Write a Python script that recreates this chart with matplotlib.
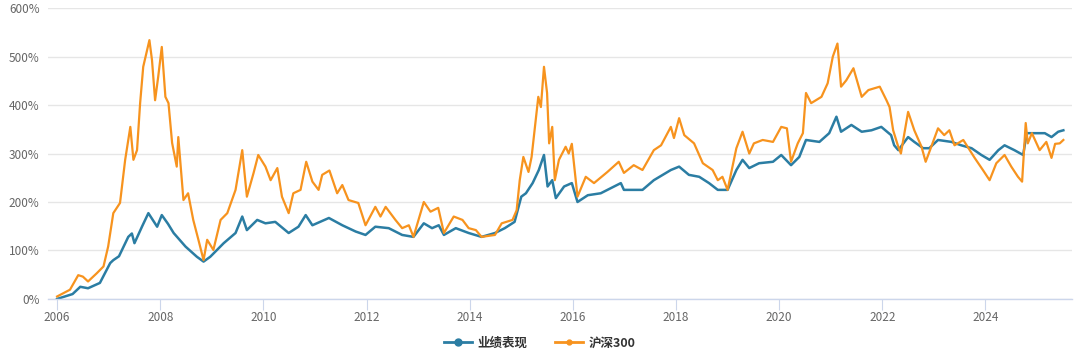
import matplotlib.pyplot as plt
from matplotlib.ticker import FuncFormatter

plt.rcParams['font.family'] = ['Noto Sans CJK SC', 'DejaVu Sans']

# 业绩表现 (strategy), decimal year / cumulative return %
perf_t = [2006.0, 2006.3, 2006.45, 2006.6, 2006.83, 2007.03, 2007.09, 2007.2, 2007.38, 2007.45,
          2007.5, 2007.65, 2007.77, 2007.94, 2008.03, 2008.15, 2008.26, 2008.49, 2008.71, 2008.84,
          2008.97, 2009.23, 2009.46, 2009.59, 2009.68, 2009.88, 2010.04, 2010.23, 2010.49, 2010.68,
          2010.82, 2010.95, 2011.27, 2011.53, 2011.79, 2011.98, 2012.17, 2012.43, 2012.69, 2012.91,
          2013.11, 2013.27, 2013.4, 2013.5, 2013.73, 2013.98, 2014.23, 2014.49, 2014.68, 2014.87,
          2015.0, 2015.09, 2015.22, 2015.34, 2015.44, 2015.51, 2015.6, 2015.67, 2015.83, 2015.98,
          2016.09, 2016.29, 2016.54, 2016.93, 2016.99, 2017.35, 2017.57, 2017.9, 2018.06, 2018.25,
          2018.45, 2018.64, 2018.81, 2019.0, 2019.17, 2019.29, 2019.42, 2019.61, 2019.88, 2020.04,
          2020.23, 2020.39, 2020.52, 2020.78, 2020.97, 2021.11, 2021.2, 2021.4, 2021.6, 2021.79,
          2021.98, 2022.17, 2022.23, 2022.31, 2022.5, 2022.62, 2022.79, 2022.91, 2023.08, 2023.34,
          2023.53, 2023.73, 2023.92, 2024.08, 2024.25, 2024.37, 2024.56, 2024.73, 2024.8, 2024.95,
          2025.15, 2025.28, 2025.41, 2025.51]
perf_v = [0, 10, 25, 22, 33, 74, 80, 88, 128, 135,
          115, 150, 177, 149, 173, 155, 136, 108, 87, 77,
          87, 115, 136, 170, 142, 163, 156, 159, 136, 149,
          173, 152, 167, 152, 139, 132, 149, 146, 132, 128,
          156, 146, 152, 132, 146, 136, 128, 136, 146, 159,
          211, 218, 239, 266, 297, 232, 245, 208, 232, 239,
          200, 214, 218, 239, 225, 225, 245, 266, 273, 256,
          252, 239, 225, 225, 266, 287, 270, 280, 283, 297,
          276, 293, 328, 324, 342, 376, 345, 359, 345, 348,
          355, 338, 317, 307, 334, 324, 311, 311, 328, 324,
          317, 311, 297, 287, 307, 317, 307, 297, 342, 342,
          342, 334, 345, 348]

# 沪深300 (CSI 300)
hs_t = [2006.0, 2006.25, 2006.41, 2006.5, 2006.6, 2006.77, 2006.9, 2006.99, 2007.09, 2007.22,
        2007.32, 2007.42, 2007.48, 2007.55, 2007.61, 2007.67, 2007.79, 2007.84, 2007.9, 2007.96,
        2008.03, 2008.1, 2008.16, 2008.23, 2008.32, 2008.35, 2008.45, 2008.54, 2008.64, 2008.74,
        2008.84, 2008.91, 2009.03, 2009.17, 2009.3, 2009.46, 2009.59, 2009.68, 2009.81, 2009.9,
        2010.04, 2010.14, 2010.27, 2010.36, 2010.49, 2010.58, 2010.72, 2010.83, 2010.95, 2011.07,
        2011.14, 2011.28, 2011.43, 2011.53, 2011.65, 2011.84, 2011.98, 2012.17, 2012.27, 2012.37,
        2012.56, 2012.69, 2012.82, 2012.91, 2013.11, 2013.24, 2013.39, 2013.5, 2013.69, 2013.86,
        2013.98, 2014.12, 2014.23, 2014.49, 2014.62, 2014.83, 2014.91, 2014.97, 2015.04, 2015.14,
        2015.2, 2015.33, 2015.38, 2015.44, 2015.5, 2015.54, 2015.6, 2015.65, 2015.73, 2015.86,
        2015.92, 2015.98, 2016.09, 2016.25, 2016.41, 2016.67, 2016.89, 2016.99, 2017.18, 2017.35,
        2017.57, 2017.71, 2017.9, 2017.96, 2018.06, 2018.16, 2018.35, 2018.52, 2018.71, 2018.81,
        2018.9, 2019.0, 2019.17, 2019.29, 2019.42, 2019.51, 2019.68, 2019.88, 2020.04, 2020.15,
        2020.23, 2020.36, 2020.46, 2020.52, 2020.62, 2020.82, 2020.94, 2021.04, 2021.13, 2021.2,
        2021.3, 2021.44, 2021.6, 2021.73, 2021.95, 2022.08, 2022.14, 2022.21, 2022.3, 2022.36,
        2022.5, 2022.62, 2022.76, 2022.84, 2022.9, 2023.08, 2023.2, 2023.3, 2023.4, 2023.57,
        2023.67, 2023.79, 2023.95, 2024.08, 2024.21, 2024.37, 2024.5, 2024.63, 2024.71, 2024.78,
        2024.82, 2024.9, 2025.05, 2025.18, 2025.28, 2025.35, 2025.44, 2025.51]
hs_v = [5, 19, 49, 46, 36, 53, 67, 108, 177, 198,
        287, 355, 287, 307, 404, 479, 534, 493, 410, 458,
        520, 417, 404, 322, 273, 334, 204, 218, 163, 122,
        80, 122, 101, 163, 177, 225, 307, 211, 260, 297,
        273, 245, 270, 211, 177, 218, 225, 283, 242, 225,
        256, 265, 218, 235, 204, 198, 152, 190, 170, 190,
        163, 146, 152, 128, 200, 180, 188, 136, 170, 163,
        146, 142, 128, 132, 156, 163, 183, 245, 293, 262,
        293, 417, 396, 479, 425, 321, 355, 245, 287, 314,
        300, 320, 211, 252, 239, 262, 283, 260, 276, 266,
        307, 317, 355, 332, 373, 338, 321, 280, 266, 245,
        252, 225, 311, 345, 300, 321, 328, 324, 355, 352,
        283, 321, 342, 425, 404, 417, 445, 500, 527, 438,
        451, 476, 417, 431, 438, 410, 396, 348, 317, 300,
        386, 348, 314, 283, 300, 352, 338, 348, 317, 328,
        311, 291, 266, 245, 280, 297, 273, 252, 242, 363,
        321, 342, 307, 324, 291, 320, 321, 328]

years = list(range(2006, 2025, 2))
y_ticks = list(range(0, 601, 100))

blue = '#2b7da3'
orange = '#f7931e'

fig = plt.figure(figsize=(10.8, 3.55), dpi=100)
ax = fig.add_axes([0.0445, 0.158, 0.9485, 0.819])

ax.plot(perf_t, perf_v, color=blue, lw=1.8, label='业绩表现', marker='o', markevery=[])
ax.plot(hs_t, hs_v, color=orange, lw=1.6, label='沪深300', marker='o', markevery=[])

ax.set_xlim(2005.825, 2025.686)
ax.set_ylim(0, 600)
ax.set_xticks(years)
ax.set_xticklabels([str(y) for y in years])
ax.set_yticks(y_ticks)
ax.yaxis.set_major_formatter(FuncFormatter(lambda v, p: f'{int(v)}%'))

ax.grid(axis='y', color='#e6e6e6', lw=1)
ax.set_axisbelow(True)
for s in ['top', 'right', 'left']:
    ax.spines[s].set_visible(False)
ax.spines['bottom'].set_color('#ccd6eb')
ax.spines['bottom'].set_linewidth(1)
ax.tick_params(axis='y', length=0, labelsize=8.5, labelcolor='#666666', pad=6)
ax.tick_params(axis='x', length=8, color='#ccd6eb', labelsize=8.5, labelcolor='#666666', pad=1)

handles = [plt.Line2D([], [], color=blue, lw=2, marker='o', ms=5),
           plt.Line2D([], [], color=orange, lw=2, marker='o', ms=3.5)]
leg = fig.legend(handles, ['业绩表现', '沪深300'], loc='center', bbox_to_anchor=(0.5, 0.034),
                 ncol=2, frameon=False, fontsize=9, handlelength=2.2, columnspacing=2.2,
                 handletextpad=0.5)
for t in leg.get_texts():
    t.set_color('#333333')
    t.set_fontweight('bold')

fig.savefig('out.png', dpi=100)
